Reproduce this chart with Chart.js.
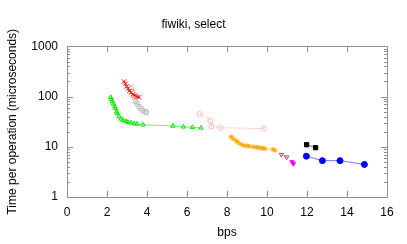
<!DOCTYPE html>
<html>
<head>
<meta charset="utf-8">
<script src="https://cdn.jsdelivr.net/npm/chart.js@4/dist/chart.umd.min.js"></script>
<style>
  html, body { margin: 0; padding: 0; background: #fff; }
  #wrap { width: 407px; height: 244px; }
</style>
</head>
<body>
<div id="wrap"><canvas id="chart"></canvas></div>
<script>
// x = bps, y = time per operation (microseconds)
const redX = [2.85, 2.92, 2.98, 3.05, 3.12, 3.2, 3.3, 3.4, 3.5, 3.6];
const redY = [200, 180, 160, 145, 130, 120, 110, 105, 100, 97];

const grayX = [3.2, 3.28, 3.35, 3.42, 3.5, 3.6, 3.7, 3.8, 3.9, 3.97];
const grayY = [150, 125, 100, 80, 72, 63, 57, 53, 50, 48];

const greenX = [2.18, 2.22, 2.27, 2.32, 2.38, 2.43, 2.48, 2.53, 2.6, 2.7, 2.8, 2.95, 3.05, 3.2, 3.35, 3.5, 3.8, 5.3, 5.82, 6.27, 6.7];
const greenY = [97, 88, 80, 72, 63, 58, 50, 46, 40, 36, 34, 32, 31, 30, 29, 28.5, 27.5, 26, 25, 24.5, 23.8];

const pinkX = [6.63, 7.17, 7.22, 7.68, 9.85];
const pinkY = [45, 33, 25.5, 24, 23];

const orangeX = [8.2, 8.3, 8.45, 8.55, 8.7, 8.85, 9.0, 9.1, 9.3, 9.45, 9.55, 9.7, 9.8, 9.9, 10.3, 10.4];
const orangeY = [15.8, 14.5, 13.2, 12.3, 11.2, 10.6, 10.5, 10.3, 10.0, 9.8, 9.7, 9.5, 9.3, 9.2, 8.9, 8.5];

const brownX = [10.72, 10.98];
const brownY = [7.0, 6.2];

const magentaX = [11.25, 11.32];
const magentaY = [5.0, 4.6];

const blackX = [11.98, 12.43];
const blackY = [11, 9.6];

const blueX = [11.97, 12.77, 13.65, 14.87];
const blueY = [6.5, 5.3, 5.3, 4.45];

const xTicks = [0, 2, 4, 6, 8, 10, 12, 14, 16];
const yTicks = [1, 10, 100, 1000];

function pts(xs, ys) {
  return xs.map((x, i) => ({ x: x, y: ys[i] }));
}

// color is [r,g,b]; the joining line is drawn a bit lighter, like gnuplot's thin antialiased lines
function series(xs, ys, rgb, style, filled, rot, radius) {
  const solid = 'rgb(' + rgb.join(',') + ')';
  const faint = 'rgba(' + rgb.join(',') + ',0.55)';
  return {
    data: pts(xs, ys),
    borderColor: faint,
    backgroundColor: filled ? solid : 'rgba(0,0,0,0)',
    pointBorderColor: solid,
    pointBackgroundColor: filled ? solid : 'rgba(0,0,0,0)',
    pointStyle: style,
    pointRotation: rot || 0,
    pointRadius: radius || 2.5,
    pointBorderWidth: 1,
    borderWidth: 1,
    showLine: true,
    tension: 0
  };
}

const FONT = '"Liberation Sans", Arial, sans-serif';

// gnuplot style frame with inward ticks
const frame = {
  id: 'frame',
  afterDraw(chart) {
    const ctx = chart.ctx;
    const a = chart.chartArea;
    const xs = chart.scales.x, ys = chart.scales.y;
    ctx.save();
    ctx.strokeStyle = '#909090';
    ctx.lineWidth = 1;
    ctx.beginPath();
    ctx.rect(Math.round(a.left) + 0.5, Math.round(a.top) + 0.5,
             Math.round(a.right - a.left), Math.round(a.bottom - a.top));
    xTicks.forEach(v => {
      const px = Math.round(xs.getPixelForValue(v)) + 0.5;
      ctx.moveTo(px, a.bottom); ctx.lineTo(px, a.bottom - 6);
      ctx.moveTo(px, a.top); ctx.lineTo(px, a.top + 6);
    });
    for (let d = 1; d < 1000; d *= 10) {
      for (let m = 1; m <= 10; m++) {
        const v = d * m;
        const py = Math.round(ys.getPixelForValue(v)) + 0.5;
        const len = (m === 1 || m === 10) ? 6 : 3;
        ctx.moveTo(a.left, py); ctx.lineTo(a.left + len, py);
        ctx.moveTo(a.right, py); ctx.lineTo(a.right - len, py);
      }
    }
    ctx.stroke();
    ctx.restore();
  }
};

new Chart(document.getElementById('chart').getContext('2d'), {
  type: 'scatter',
  data: {
    datasets: [
      series(redX, redY, [255, 0, 0], 'crossRot', false, 0, 3),
      series(grayX, grayY, [192, 192, 192], 'rect', false, 0, 3),
      series(greenX, greenY, [0, 230, 0], 'triangle', false),
      series(pinkX, pinkY, [255, 180, 180], 'circle', false),
      series(orangeX, orangeY, [255, 165, 0], 'star', false),
      series(brownX, brownY, [160, 80, 80], 'triangle', false, 180),
      series(magentaX, magentaY, [255, 0, 255], 'triangle', true, 180),
      series(blackX, blackY, [0, 0, 0], 'rect', true, 0, 3),
      series(blueX, blueY, [0, 0, 255], 'circle', true, 0, 3)
    ]
  },
  options: {
    responsive: true,
    maintainAspectRatio: false,
    animation: false,
    layout: { padding: { left: 0, right: 20, top: 0, bottom: 0 } },
    plugins: {
      legend: { display: false },
      tooltip: { enabled: false },
      title: {
        display: true,
        text: 'fiwiki, select',
        color: '#000',
        font: { family: FONT, size: 12, weight: 'normal' },
        padding: { top: 17, bottom: 15 }
      }
    },
    scales: {
      x: {
        type: 'linear',
        min: 0,
        max: 16,
        afterBuildTicks: s => { s.ticks = xTicks.map(v => ({ value: v })); },
        afterFit: s => { s.height = 47; },
        grid: { display: false, drawTicks: false },
        border: { display: false },
        ticks: { color: '#000', font: { family: FONT, size: 12 }, padding: 8, maxRotation: 0 },
        title: {
          display: true,
          text: 'bps',
          color: '#000',
          font: { family: FONT, size: 12 },
          padding: { top: 0, bottom: 4 }
        }
      },
      y: {
        type: 'logarithmic',
        min: 1,
        max: 1000,
        afterBuildTicks: s => { s.ticks = yTicks.map(v => ({ value: v })); },
        afterFit: s => { s.width = 67; },
        grid: { display: false, drawTicks: false },
        border: { display: false },
        ticks: {
          color: '#000',
          font: { family: FONT, size: 12 },
          padding: 9,
          callback: v => String(v)
        },
        title: {
          display: true,
          text: 'Time per operation (microseconds)',
          color: '#000',
          font: { family: FONT, size: 12 },
          padding: { top: 5, bottom: 0 }
        }
      }
    }
  },
  plugins: [frame]
});
</script>
</body>
</html>
